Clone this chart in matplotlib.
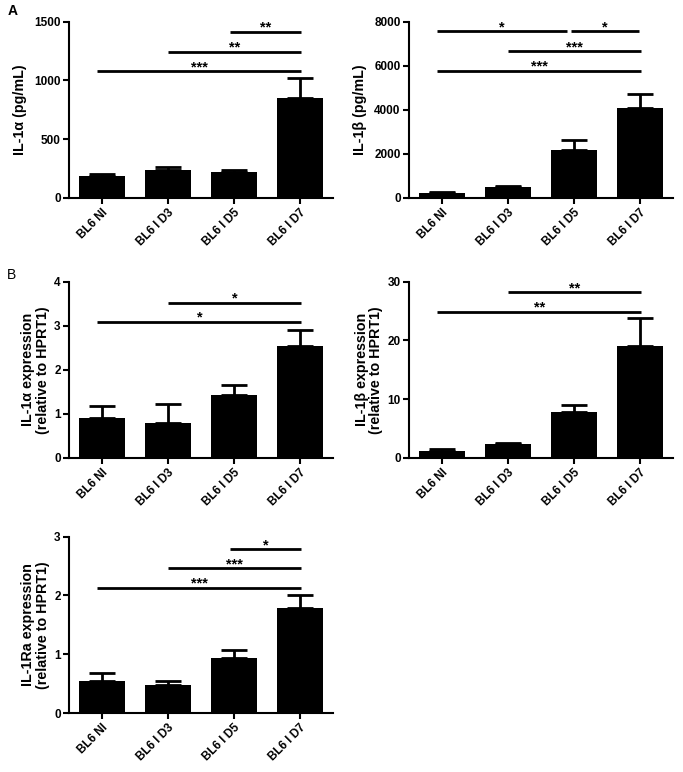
import matplotlib
matplotlib.use("Agg")
import matplotlib.pyplot as plt
import numpy as np

plt.rcParams['font.family'] = ['Liberation Sans', 'DejaVu Sans']
plt.rcParams['font.weight'] = 'bold'

categories = ["BL6 NI", "BL6 I D3", "BL6 I D5", "BL6 I D7"]

il1a_prot = [185, 235, 220, 855]
il1a_prot_err = [15, 30, 15, 170]
il1b_prot = [220, 480, 2200, 4100]
il1b_prot_err = [60, 80, 450, 650]
il1a_expr = [0.90, 0.80, 1.43, 2.55]
il1a_expr_err = [0.27, 0.42, 0.23, 0.35]
il1b_expr = [1.2, 2.3, 7.8, 19.0]
il1b_expr_err = [0.25, 0.3, 1.3, 4.8]
il1ra_expr = [0.55, 0.48, 0.93, 1.79]
il1ra_expr_err = [0.13, 0.07, 0.15, 0.21]

# significance: (from, to, height, label)
sig_a_prot = [(0, 3, 1080, "***"), (1, 3, 1245, "**"), (2, 3, 1415, "**")]
sig_b_prot = [(0, 3, 5790, "***"), (1, 3, 6670, "***"), (0, 2, 7570, "*"), (2, 3, 7570, "*")]
sig_a_expr = [(0, 3, 3.09, "*"), (1, 3, 3.52, "*")]
sig_b_expr = [(0, 3, 24.9, "**"), (1, 3, 28.2, "**")]
sig_ra_expr = [(0, 3, 2.13, "***"), (1, 3, 2.46, "***"), (2, 3, 2.79, "*")]

W, H = 683, 772
fig = plt.figure(figsize=(W / 100, H / 100), dpi=100)


def add_ax(left, top, right, bottom):
    return fig.add_axes([left / W, 1 - bottom / H, (right - left) / W, (bottom - top) / H])


def panel(ax, vals, errs, ymax, yticks, ylabel, sigs, labelpad):
    x = np.arange(len(categories))
    ax.bar(x, vals, width=0.7, color='black', zorder=2)
    ax.errorbar(x, vals, yerr=[np.zeros(len(vals)), errs], fmt='none', ecolor='black',
                elinewidth=2.0, capsize=9.4, capthick=2.0, zorder=1)
    ax.set_xlim(-0.5, 3.5)
    ax.set_ylim(0, ymax)
    ax.set_yticks(yticks)
    ax.set_yticklabels([str(t) for t in yticks], fontsize=8.5, fontweight='bold')
    ax.set_xticks(x)
    ax.set_xticklabels(categories, rotation=45, ha='right', rotation_mode='anchor',
                       fontsize=8.5, fontweight='bold')
    for s in ['top', 'right']:
        ax.spines[s].set_visible(False)
    for s in ['left', 'bottom']:
        ax.spines[s].set_linewidth(1.5)
    ax.tick_params(axis='both', width=1.5, length=4, pad=2)
    ax.set_ylabel(ylabel, fontsize=10.3, fontweight='bold', labelpad=labelpad,
                  linespacing=1.05)
    for (i, j, h, lab) in sigs:
        x0 = i - 0.07 if i == 0 else (i - 0.06 if i == 2 else i)
        x1 = j + 0.02
        same = [s for s in sigs if s[2] == h and s != (i, j, h, lab)]
        if same and j == 2:
            x1 = j - 0.11
        if same and i == 2:
            x0 = i - 0.05
            x1 = j - 0.02
        ax.plot([x0, x1], [h, h], color='black', lw=2.0, clip_on=False, solid_capstyle='butt')
        ax.text((x0 + x1) / 2, h, lab, ha='center', va='baseline',
                fontsize=10.5, fontweight='bold')


ax1 = add_ax(69, 21.7, 333, 198)
panel(ax1, il1a_prot, il1a_prot_err, 1500, [0, 500, 1000, 1500], "IL-1α (pg/mL)", sig_a_prot, 5)
ax2 = add_ax(409, 22, 673, 198)
panel(ax2, il1b_prot, il1b_prot_err, 8000, [0, 2000, 4000, 6000, 8000], "IL-1β (pg/mL)", sig_b_prot, 5)
ax3 = add_ax(69, 281.7, 333, 458)
panel(ax3, il1a_expr, il1a_expr_err, 4, [0, 1, 2, 3, 4], "IL-1α expression\n(relative to HPRT1)", sig_a_expr, 3)
ax4 = add_ax(409, 281.7, 673, 458)
panel(ax4, il1b_expr, il1b_expr_err, 30, [0, 10, 20, 30], "IL-1β expression\n(relative to HPRT1)", sig_b_expr, 3)
ax5 = add_ax(69, 536.7, 333, 713)
panel(ax5, il1ra_expr, il1ra_expr_err, 3, [0, 1, 2, 3], "IL-1Ra expression\n(relative to HPRT1)", sig_ra_expr, 3)

fig.text(13 / W, 1 - 11 / H, "A", fontsize=10, fontweight='bold', ha='center', va='center')
fig.text(12 / W, 1 - 275 / H, "B", fontsize=10, fontweight='normal', ha='center', va='center')

fig.savefig("out.png", dpi=100)
